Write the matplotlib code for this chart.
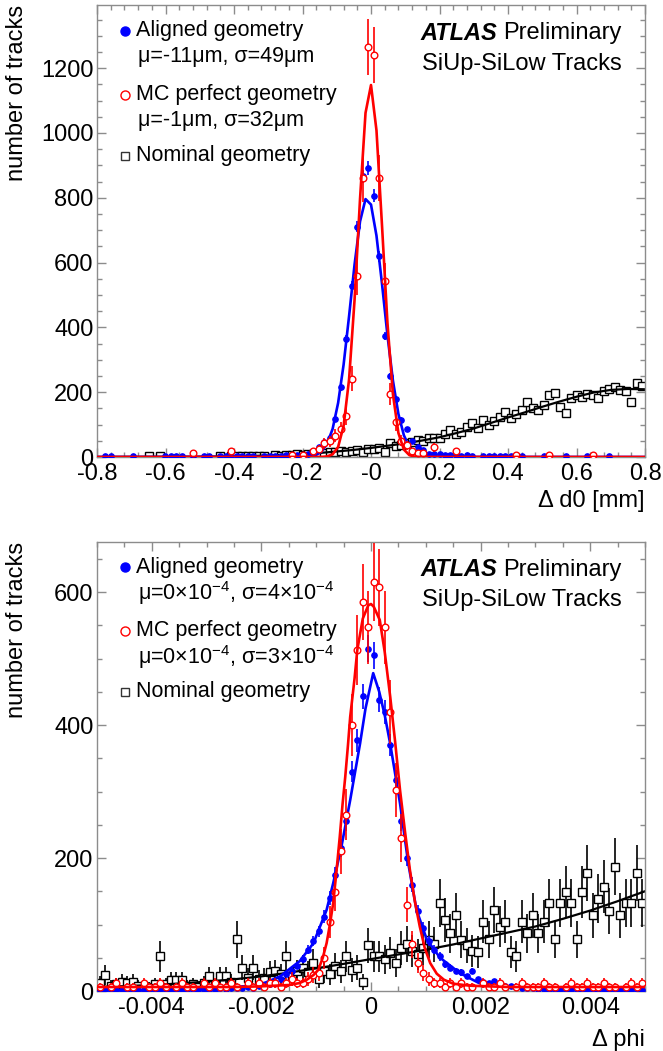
import numpy as np
import matplotlib
matplotlib.use("Agg")
import matplotlib.pyplot as plt
from matplotlib.ticker import FixedLocator, MultipleLocator

plt.rcParams['font.family'] = ['Liberation Sans', 'DejaVu Sans']
plt.rcParams['mathtext.fontset'] = 'custom'
plt.rcParams['mathtext.rm'] = 'Liberation Sans'
plt.rcParams['mathtext.it'] = 'Liberation Sans:italic'
plt.rcParams['mathtext.bf'] = 'Liberation Sans:bold'

# ------------------------------------------------------------------ data
# Top panel: Delta d0 [mm], 100 bins over [-0.8, 0.8]
d0_range = (-0.8, 0.8)
d0_nbins = 100
d0_aligned = [0, 2, 2, 0, 0, 0, 3, 0, 0, 0,
              0, 0, 2, 2, 3, 2, 0, 2, 0, 3,
              2, 0, 3, 3, 4, 3, 4, 3, 4, 0,
              3, 4, 3, 4, 5, 4, 6, 6, 8, 12,
              31, 45, 60, 117, 215, 363, 527, 711, 866, 892,
              807, 619, 373, 250, 180, 115, 86, 50, 30, 21,
              10, 9, 8, 6, 7, 5, 4, 5, 3, 0,
              3, 2, 3, 2, 3, 2, 0, 2, 0, 0,
              0, 2, 0, 0, 0, 2, 0, 0, 0, 2,
              2, 0, 0, 2, 0, 0, 0, 0, 0, 0]
d0_mc = [0, 0, 0, 0, 0, 0, 0, 0, 0, 0,
         0, 0, 0, 0, 0, 0, 0, 12, 0, 0,
         0, 0, 0, 0, 18, 0, 0, 0, 0, 0,
         0, 0, 0, 0, 0, 6, 0, 6, 0, 18,
         24, 42, 48, 66, 86, 127, 242, 558, 860, 1266,
         1242, 861, 542, 194, 107, 50, 36, 18, 12, 12,
         0, 30, 0, 0, 0, 18, 0, 0, 0, 0,
         0, 0, 0, 0, 0, 0, 6, 0, 0, 0,
         0, 0, 6, 0, 0, 0, 0, 0, 0, 0,
         6, 0, 0, 0, 0, 0, 0, 0, 0, 0]
d0_nominal = [0, 0, 0, 0, 0, 0, 0, 0, 0, 2,
              0, 3, 0, 0, 0, 0, 0, 0, 0, 0,
              0, 0, 2, 0, 3, 2, 4, 3, 4, 3,
              3, 0, 5, 4, 6, 5, 8, 7, 10, 9,
              12, 11, 16, 14, 18, 15, 20, 22, 16, 24,
              26, 28, 16, 42, 35, 38, 44, 46, 52, 50,
              58, 60, 58, 72, 83, 70, 78, 92, 104, 88,
              114, 100, 110, 122, 140, 120, 132, 146, 171, 150,
              145, 162, 191, 197, 155, 135, 182, 190, 186, 195,
              190, 181, 205, 210, 215, 208, 205, 171, 227, 220]
# fit curves (x [mm], tracks)
d0_fit_aligned_x = [-0.8, -0.192, -0.176, -0.16, -0.144, -0.128, -0.112, -0.096, -0.08, -0.064,
                    -0.048, -0.032, -0.016, 0.0, 0.016, 0.032, 0.048, 0.064, 0.08, 0.096,
                    0.112, 0.128, 0.144, 0.16, 0.176, 0.8]
d0_fit_aligned_y = [0, 0.6, 1.9, 6.5, 17, 41, 87, 167, 285, 435,
                    594, 727, 796, 779, 683, 536, 376, 236, 133, 67,
                    30, 12, 4.4, 1.4, 0.4, 0]
d0_fit_mc_x = [-0.8, -0.144, -0.128, -0.112, -0.096, -0.08, -0.064, -0.048, -0.032, -0.016,
               0.0, 0.016, 0.032, 0.048, 0.064, 0.08, 0.096, 0.112, 0.128, 0.144, 0.8]
d0_fit_mc_y = [0, 0.3, 1.8, 8.3, 31, 96, 240, 485, 797, 1062,
               1148, 1008, 717, 414, 194, 74, 23, 5.7, 1.2, 0.2, 0]
d0_fit_nominal_x = [-0.8, -0.6, -0.5, -0.4, -0.3, -0.25, -0.2, -0.15, -0.1, -0.05, 0.0,
                    0.05, 0.1, 0.15, 0.2, 0.25, 0.3, 0.35, 0.4, 0.45, 0.5, 0.55, 0.6,
                    0.65, 0.7, 0.75, 0.8]
d0_fit_nominal_y = [0.2, 0.5, 1, 2, 4.5, 6.5, 9, 12.5, 17, 22, 28,
                    35, 42, 51, 61, 74, 88, 105, 122, 138, 155, 171, 186,
                    199, 207, 210, 209]

# Bottom panel: Delta phi, 100 bins over [-0.005, 0.005]; x values in units of 1e-3
PHI_UNIT = 1e-3
phi_range = (-0.005, 0.005)
phi_nbins = 100
phi_aligned = [2, 1, 2, 1, 2, 1, 2, 2, 1, 2,
               1, 2, 1, 2, 2, 1, 3, 2, 2, 3,
               3, 2, 4, 3, 4, 5, 4, 6, 5, 7,
               8, 10, 14, 18, 25, 30, 38, 48, 62, 75,
               90, 112, 140, 175, 215, 255, 330, 377, 443, 515,
               505, 438, 420, 370, 317, 255, 200, 160, 120, 95,
               75, 62, 52, 40, 35, 30, 28, 22, 30, 18,
               14, 12, 15, 10, 8, 7, 6, 5, 4, 4,
               3, 3, 2, 3, 2, 2, 3, 2, 2, 1,
               2, 2, 1, 2, 1, 2, 1, 1, 2, 1]
phi_mc = [6, 0, 6, 12, 0, 6, 6, 0, 12, 6,
          6, 12, 6, 0, 6, 12, 6, 6, 0, 12,
          6, 12, 6, 6, 12, 6, 0, 12, 6, 12,
          6, 12, 12, 6, 12, 18, 12, 12, 18, 24,
          27, 50, 104, 149, 210, 265, 400, 513, 585, 547,
          615, 607, 547, 420, 302, 230, 130, 70, 42, 27,
          18, 12, 12, 6, 12, 6, 12, 6, 6, 0,
          12, 6, 6, 12, 6, 0, 6, 12, 6, 6,
          6, 12, 6, 6, 0, 6, 12, 6, 6, 12,
          6, 6, 12, 6, 6, 0, 6, 12, 6, 12]
phi_nominal = [12, 24, 8, 10, 14, 12, 14, 8, 0, 6,
               10, 52, 10, 16, 16, 16, 8, 10, 6, 12,
               22, 8, 22, 22, 14, 78, 35, 20, 35, 18,
               20, 28, 30, 25, 52, 22, 30, 35, 28, 42,
               18, 30, 25, 38, 30, 52, 32, 35, 14, 69,
               52, 52, 48, 57, 42, 65, 71, 60, 55, 65,
               77, 70, 132, 107, 87, 114, 77, 69, 60, 59,
               104, 78, 122, 97, 104, 59, 52, 104, 87, 114,
               87, 104, 132, 78, 132, 149, 132, 78, 149, 177,
               114, 139, 157, 120, 187, 114, 132, 132, 177, 132]
phi_fit_aligned_x = [-5, -4, -3, -2.5, -2.0, -1.66, -1.3, -1.05, -0.81, -0.69, -0.54, -0.38,
                     -0.2, -0.1, 0.04, 0.15, 0.25, 0.35, 0.53, 0.68, 0.83, 1.02, 1.26,
                     1.62, 1.97, 2.48, 3.1, 4, 5]
phi_fit_aligned_y = [1, 1.5, 3, 5, 10, 22, 45, 72, 122, 162, 217, 287,
                     372, 425, 478, 450, 415, 372, 282, 192, 122, 77, 50,
                     27, 12, 6, 2, 1, 1]
phi_fit_mc_x = [-5, -2.5, -2, -1.5, -1.3, -1.17, -1.05, -0.96, -0.88, -0.81, -0.75, -0.69,
                -0.63, -0.57, -0.52, -0.47, -0.42, -0.38, -0.3, -0.25, -0.15, -0.05, 0,
                0.05, 0.16, 0.25, 0.35, 0.44, 0.53, 0.62, 0.71, 0.8, 0.89, 0.98, 1.08,
                1.2, 1.33, 1.5, 1.8, 2.5, 5]
phi_fit_mc_y = [6, 6, 7, 9, 12, 17, 24, 32, 50, 72, 100, 132,
                180, 232, 280, 322, 370, 412, 470, 513, 560, 580, 582,
                578, 558, 510, 443, 375, 302, 240, 182, 135, 97, 65, 42,
                26, 17, 11, 8, 6, 6]
phi_fit_nominal_x = [-5, -4.5, -4, -3.5, -3, -2.5, -2, -1.5, -1, -0.5, 0, 0.5, 1, 1.5,
                     2, 2.5, 3, 3.5, 4, 4.5, 5]
phi_fit_nominal_y = [6, 7.3, 9, 11.3, 14, 17.6, 22, 27.6, 34, 40.8, 48, 55, 62, 70,
                     79, 88, 97, 108.5, 121, 135, 150]

# error scale (histogram weight) per sample: err = sqrt(scale * counts)
err_scale_d0 = {"aligned": 0.46, "mc": 6.0, "nominal": 0.5}
err_scale_phi = {"aligned": 0.8, "mc": 5.5, "nominal": 10.0}

d0_xticklabels = ["-0.8", "-0.6", "-0.4", "-0.2", "-0", "0.2", "0.4", "0.6", "0.8"]
d0_yticklabels = ["0", "200", "400", "600", "800", "1000", "1200"]
phi_xticklabels = ["-0.004", "-0.002", "0", "0.002", "0.004"]
phi_yticklabels = ["0", "200", "400", "600"]

legend_d0 = ["Aligned geometry", "\u03bc=-11\u03bcm, \u03c3=49\u03bcm",
             "MC perfect geometry", "\u03bc=-1\u03bcm, \u03c3=32\u03bcm",
             "Nominal geometry"]
legend_phi = ["Aligned geometry", "\u03bc=0\u00d710$^{-4}$, \u03c3=4\u00d710$^{-4}$",
              "MC perfect geometry", "\u03bc=0\u00d710$^{-4}$, \u03c3=3\u00d710$^{-4}$",
              "Nominal geometry"]

# ------------------------------------------------------------------ style
BLUE = "#0000ff"
RED = "#ff0000"
BLACK = "#000000"
FRAME = "#8c8c8c"
FS = 17
LFS = 15.5

W, H = 663, 1051
fig = plt.figure(figsize=(W / 100, H / 100), dpi=100)


def px_axes(left, top, right, bottom):
    return fig.add_axes([left / W, 1 - bottom / H, (right - left) / W, (bottom - top) / H])


ax1 = px_axes(97, 5, 645, 457)
ax2 = px_axes(97, 541.5, 645, 991)


def centers(rng, n):
    edges = np.linspace(rng[0], rng[1], n + 1)
    return 0.5 * (edges[:-1] + edges[1:])


def draw_hist(ax, x, counts, scale, color, marker, ms, filled, z):
    c = np.asarray(counts, dtype=float)
    m = c > 0
    err = np.sqrt(scale * c[m])
    ax.errorbar(x[m], c[m], yerr=err, fmt='none', ecolor=color, elinewidth=1.2,
                capsize=0, zorder=z)
    ax.plot(x[m], c[m], linestyle='none', marker=marker, ms=ms,
            mfc=color if filled else 'white', mec=color, mew=1.0, zorder=z + 0.1)


def style_axes(ax, xmaj, xmin, ymaj, ymin, xticklabels, yticklabels, xlim, ylim):
    ax.set_xlim(*xlim)
    ax.set_ylim(*ylim)
    for s in ax.spines.values():
        s.set_color(FRAME)
        s.set_linewidth(1.0)
    ax.xaxis.set_major_locator(FixedLocator(xmaj))
    ax.set_xticklabels(xticklabels)
    ax.xaxis.set_minor_locator(MultipleLocator(xmin))
    ax.yaxis.set_major_locator(FixedLocator(ymaj))
    ax.set_yticklabels(yticklabels)
    ax.yaxis.set_minor_locator(MultipleLocator(ymin))
    ax.tick_params(which='both', direction='in', top=True, right=True, color=FRAME,
                   width=1.0, labelsize=FS, labelcolor='black')
    ax.tick_params(which='major', length=6.5)
    ax.tick_params(which='minor', length=3.6)
    ax.tick_params(axis='x', pad=4.5)
    ax.tick_params(axis='y', pad=2.5)


def legend(ax, texts):
    ys = [0.943, 0.885, 0.801, 0.744, 0.666]
    ax.plot([0.051], [ys[0]], marker='o', ms=6.5, mfc=BLUE, mec=BLUE, transform=ax.transAxes,
            clip_on=False, zorder=10)
    ax.plot([0.051], [ys[2]], marker='o', ms=6.5, mfc='white', mec=RED, mew=1.0,
            transform=ax.transAxes, clip_on=False, zorder=10)
    ax.plot([0.051], [ys[4]], marker='s', ms=6.0, mfc='white', mec='#333333', mew=1.0,
            transform=ax.transAxes, clip_on=False, zorder=10)
    xs = [0.072, 0.075, 0.072, 0.075, 0.072]
    for t, x, y in zip(texts, xs, ys):
        ax.text(x, y, t, transform=ax.transAxes, ha='left', va='center', fontsize=LFS,
                zorder=10)


def atlas_label(ax):
    t = ax.text(0.958, 0.937, "Preliminary", transform=ax.transAxes, ha='right',
                va='center', fontsize=FS)
    ax.text(0.958, 0.869, "SiUp-SiLow Tracks", transform=ax.transAxes, ha='right',
            va='center', fontsize=FS)
    fig.canvas.draw()
    bb = t.get_window_extent(renderer=fig.canvas.get_renderer())
    xa = ax.transAxes.inverted().transform((bb.x0 - 6.5, 0))[0]
    ax.text(xa, 0.937, "ATLAS", transform=ax.transAxes, ha='right', va='center',
            fontsize=FS, fontweight='bold', fontstyle='italic')


# ------------------------------------------------------------------ top panel
xd0 = centers(d0_range, d0_nbins)
draw_hist(ax1, xd0, d0_nominal, err_scale_d0["nominal"], BLACK, 's', 5.3, False, 2)
ax1.plot(d0_fit_nominal_x, d0_fit_nominal_y, color=BLACK, lw=1.6, zorder=2.5)
draw_hist(ax1, xd0, d0_aligned, err_scale_d0["aligned"], BLUE, 'o', 3.8, True, 3)
ax1.plot(d0_fit_aligned_x, d0_fit_aligned_y, color=BLUE, lw=1.9, zorder=3.5)
draw_hist(ax1, xd0, d0_mc, err_scale_d0["mc"], RED, 'o', 4.8, False, 4)
ax1.plot(d0_fit_mc_x, d0_fit_mc_y, color=RED, lw=1.9, zorder=4.5)

style_axes(ax1, [-0.8, -0.6, -0.4, -0.2, 0.0, 0.2, 0.4, 0.6, 0.8], 0.04,
           [0, 200, 400, 600, 800, 1000, 1200], 50, d0_xticklabels, d0_yticklabels,
           d0_range, (0, 1395))
legend(ax1, legend_d0)
ax1.text(1.0, -0.097, "\u0394 d0 [mm]", transform=ax1.transAxes, ha='right', va='center',
         fontsize=FS)
fig.text(17 / W, 1 - 5 / H, "number of tracks", rotation=90, ha='center', va='top',
         fontsize=FS)

# ------------------------------------------------------------------ bottom panel
xphi = centers(phi_range, phi_nbins)
draw_hist(ax2, xphi, phi_nominal, err_scale_phi["nominal"], BLACK, 's', 5.3, False, 2)
ax2.plot(np.array(phi_fit_nominal_x) * PHI_UNIT, phi_fit_nominal_y, color=BLACK, lw=1.6,
         zorder=2.5)
draw_hist(ax2, xphi, phi_aligned, err_scale_phi["aligned"], BLUE, 'o', 3.8, True, 3)
ax2.plot(np.array(phi_fit_aligned_x) * PHI_UNIT, phi_fit_aligned_y, color=BLUE, lw=1.9,
         zorder=3.5)
draw_hist(ax2, xphi, phi_mc, err_scale_phi["mc"], RED, 'o', 4.8, False, 4)
ax2.plot(np.array(phi_fit_mc_x) * PHI_UNIT, phi_fit_mc_y, color=RED, lw=1.9, zorder=4.5)

style_axes(ax2, [-0.004, -0.002, 0.0, 0.002, 0.004], 0.0005,
           [0, 200, 400, 600], 50, phi_xticklabels, phi_yticklabels,
           phi_range, (0, 676))
legend(ax2, legend_phi)
ax2.text(1.0, -0.109, "\u0394 phi", transform=ax2.transAxes, ha='right', va='center',
         fontsize=FS)
fig.text(17 / W, 1 - 541.5 / H, "number of tracks", rotation=90, ha='center', va='top',
         fontsize=FS)

atlas_label(ax1)
atlas_label(ax2)

fig.savefig("out.png", dpi=100)
